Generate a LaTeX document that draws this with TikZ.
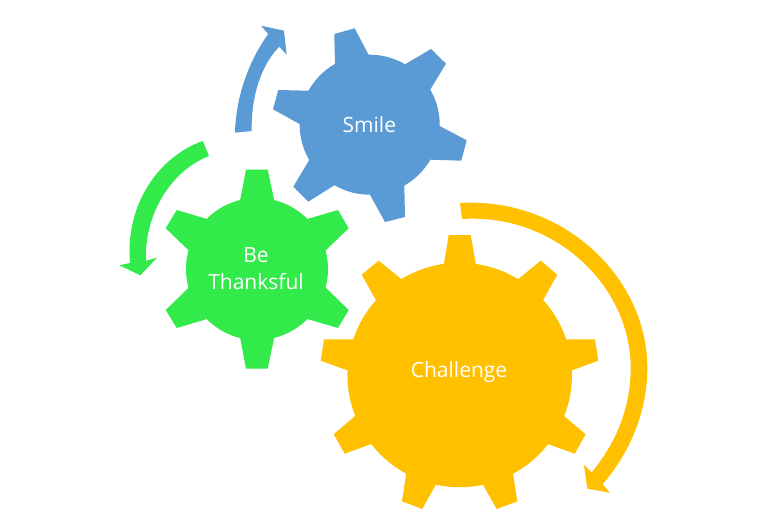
\documentclass[tikz,border=0pt]{standalone}
\usepackage{fontspec}
\setmainfont{Open Sans}
\definecolor{gblue}{HTML}{5B9BD5}
\definecolor{ggreen}{HTML}{33EA4B}
\definecolor{gorange}{HTML}{FFC000}
\tikzset{
  gear/.style={circle,inner sep=0pt,text=white,align=center,font=\fontsize{21}{27}\selectfont},
}
\newcommand{\tooth}[5]{(#1)--#2--#3--#4--#5--cycle}
\begin{document}
\begin{tikzpicture}[x=1pt,y=-1pt]
\useasboundingbox (0,0) rectangle (774,517);
\coordinate (sc) at (369.7,124.7);
\coordinate (tc) at (257,269);
\coordinate (cc) at (459.7,375);
% teeth
\fill[gblue] \tooth{sc}{(335,64.3)}{(334.3,34)}{(354.7,28.3)}{(368.7,55)}
 \tooth{sc}{(405,64.3)}{(431,49)}{(446,63.7)}{(430,90)}
 \tooth{sc}{(439.7,126)}{(466.7,140.3)}{(461.3,160.7)}{(430.3,159.7)}
 \tooth{sc}{(404.3,185.3)}{(405,217)}{(385,222)}{(369.7,194.3)}
 \tooth{sc}{(334.3,185.3)}{(308.3,201.7)}{(293.3,186.7)}{(309,160.3)}
 \tooth{sc}{(300,124.3)}{(273,109.3)}{(278.3,90)}{(309,90.7)};
\fill[ggreen] \tooth{tc}{(240,200.7)}{(246,169.7)}{(267.7,169.7)}{(274.3,200.7)}
 \tooth{tc}{(308.3,218.7)}{(338,210)}{(348.7,228.3)}{(326,250)}
 \tooth{tc}{(326,288)}{(348.7,310)}{(338,328)}{(308.3,319.3)}
 \tooth{tc}{(274.3,337.3)}{(267.7,368.7)}{(246,368.7)}{(240,337.3)}
 \tooth{tc}{(206,319.3)}{(176.7,328)}{(165.7,310)}{(188.3,288)}
 \tooth{tc}{(188.3,250)}{(165.7,228.3)}{(176.7,210)}{(206,218.7)};
\fill[gorange] \tooth{cc}{(444,263.3)}{(448.7,235)}{(470.7,235)}{(475.7,263.3)}
 \tooth{cc}{(518.7,278.7)}{(540.7,260.7)}{(557.3,274.7)}{(543.3,299.7)}
 \tooth{cc}{(566,339.3)}{(595,339.3)}{(598.3,360.7)}{(572,370.3)}
 \tooth{cc}{(564,416)}{(585.7,434.3)}{(574.7,453.7)}{(548,444)}
 \tooth{cc}{(513,473.3)}{(517.3,501.3)}{(496.7,509)}{(482.7,484.3)}
 \tooth{cc}{(436,484.3)}{(422.3,509)}{(402,501.3)}{(406.3,473.3)}
 \tooth{cc}{(371.3,444)}{(344.7,453.7)}{(333.7,434.3)}{(355,416)}
 \tooth{cc}{(347.3,370.3)}{(320.7,360.7)}{(324,339.3)}{(353.3,339.3)}
 \tooth{cc}{(375.7,299.7)}{(361.7,274.7)}{(378.7,260.7)}{(400.7,278.7)};
% gear bodies
\node[gear,fill=gblue,minimum size=140pt] (smile) at (sc) {};
\node[gear,fill=ggreen,minimum size=142pt] (thank) at (tc) {};
\node[gear,fill=gorange,minimum size=224.5pt] (chal) at (cc) {};
% labels
\node[gear] (smilet) at (369.3,125) {Smile};
\node[gear] (thankt) at (256,268.5) {Be\\Thanksful};
\node[gear] (chalt) at (459,372.5) {Challenge};
% curved block arrows
\fill[gblue] (235,132.7) .. controls (236,92) and (252,56) .. (268.3,34)
 -- (261,25.7) -- (284,30.7) -- (286.7,54.7) -- (279.3,46.7)
 .. controls (262,64) and (251,95) .. (251.7,131) -- cycle;
\fill[ggreen] (202.7,141) .. controls (158,157) and (125,205) .. (130,263)
 -- (119.3,265.3) -- (140.3,275.3) -- (157,257.7) -- (146,260.7)
 .. controls (144,216) and (170,171) .. (209,156) -- cycle;
\fill[gorange] (460,203) .. controls (563,197) and (647.3,277) .. (647.3,368)
 .. controls (647.3,412) and (630,452) .. (602.7,484.3)
 -- (610,492.7) -- (587.3,488.7) -- (584,465) -- (591.7,472.3)
 .. controls (616,443) and (630.7,408) .. (630.7,368)
 .. controls (630.7,286) and (555,213) .. (462,219) -- cycle;
\end{tikzpicture}
\end{document}
